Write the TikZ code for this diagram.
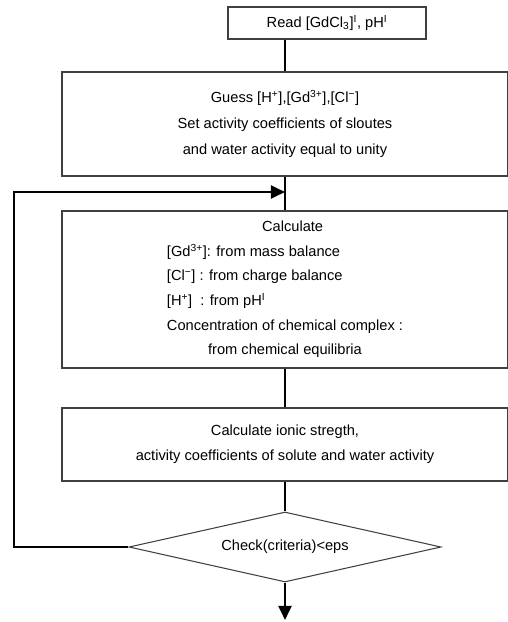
\documentclass[tikz,border=0pt]{standalone}
\usepackage{fontspec}
\setmainfont{Liberation Sans}
\usetikzlibrary{shapes.geometric,arrows.meta}

\newlength{\colw}
\newcommand{\boxfont}{\fontsize{12.5}{21}\selectfont}

\tikzset{
	stepbox/.style = {draw = black!75,
					  line width = 0.9pt,
					  shape = rectangle,
					  align = center,
					  font = \boxfont,
					  inner sep = 0pt},
	flow/.style = {line width = 2pt},
	tip/.style = {-{Triangle[length = 12pt, width = 11pt]}}
}

\begin{document}
\settowidth{\colw}{\boxfont Concentration of chemical complex :}
\begin{tikzpicture}[x = 0.03cm, y = -0.03cm]
	\useasboundingbox (0, 0) rectangle (507, 622);

	\draw (327, 23) node[stepbox,
					  minimum width = 5.94cm,
					  minimum height = 0.96cm
			   ](read){Read [GdCl\textsubscript{3}]\textsuperscript{I}, pH\textsuperscript{I}};
	\draw (285, 124) node[stepbox,
					  font = \fontsize{12.5}{22.5}\selectfont,
					  minimum width = 13.38cm,
					  minimum height = 3.12cm
			   ](guess){Guess [H\textsuperscript{+}],[Gd\textsuperscript{3+}],[Cl\textsuperscript{−}]\\
						Set activity coefficients of sloutes\\
						and water activity equal to unity};
	\draw (285, 289.5) node[stepbox,
					  minimum width = 13.38cm,
					  minimum height = 4.71cm
			   ](calc){\hspace*{13pt}Calculate\\
					   \makebox[\colw][l]{[Gd\textsuperscript{3+}]: from mass balance}\\
					   \makebox[\colw][l]{[Cl\textsuperscript{−}] : from charge balance}\\
					   \makebox[\colw][l]{[H\textsuperscript{+}]\hspace{0.55em}: from pH\textsuperscript{I}}\\
					   Concentration of chemical complex :\\
					   from chemical equilibria};
	\draw (285, 444.5) node[stepbox,
					  minimum width = 13.38cm,
					  minimum height = 2.19cm
			   ](update){Calculate ionic stregth,\\
						 activity coefficients of solute and water activity};
	\draw (285, 547) node[stepbox,
					  shape = diamond,
					  aspect = 4.46,
					  minimum width = 9.36cm,
					  minimum height = 2.1cm
			   ](check){Check(criteria)<eps};

	\coordinate (loop) at (285, 192);
	\coordinate (ret) at (14, 192);
	\coordinate (done) at (285, 620);

	\draw[flow] (read.south -| guess.north) -- (guess.north);
	\draw[flow] (guess.south) -- (calc.north);
	\draw[flow] (calc.south) -- (update.north);
	\draw[flow] (update.south) -- (check.north);

	\draw[flow, tip] (check.west) -| (ret) -- (loop);
	\draw[flow, tip] (check.south) -- (done);
\end{tikzpicture}
\end{document}
